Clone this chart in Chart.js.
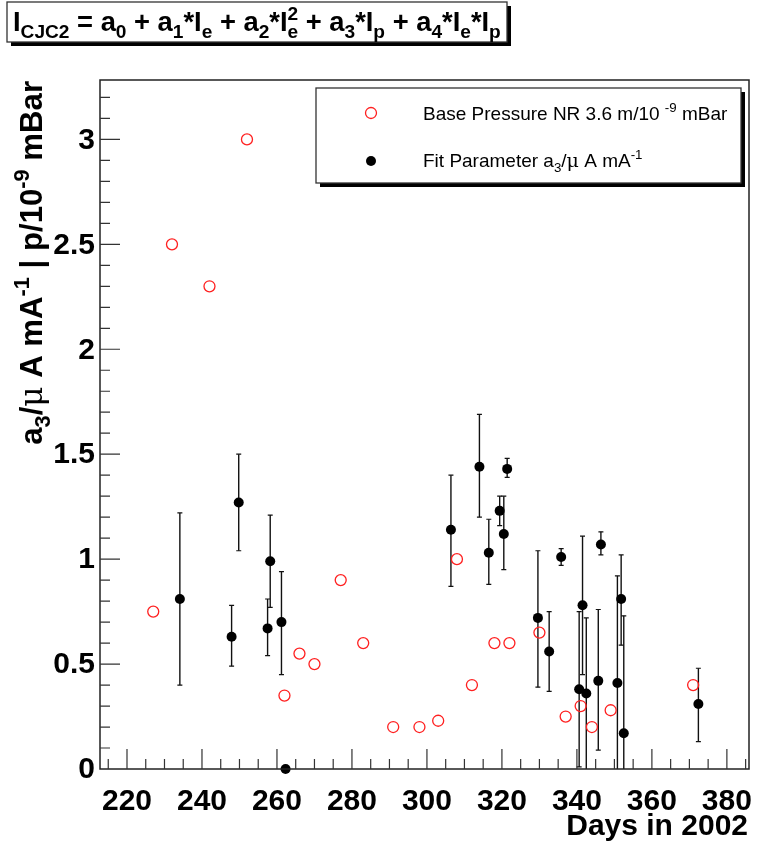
<!DOCTYPE html>
<html>
<head>
<meta charset="utf-8">
<script src="https://cdn.jsdelivr.net/npm/chart.js@4.4.0/dist/chart.umd.min.js"></script>
<style>
  html, body { margin: 0; padding: 0; background: #fff; }
</style>
</head>
<body>
<canvas id="cjcChart" width="758" height="843"></canvas>
<script>
// base pressure (red open circles)
const pressureDays = [227, 232, 242, 252, 262, 266, 270, 277, 283, 291, 298, 303, 308, 312, 318, 322, 330, 337, 341, 344, 349, 371];
const pressureVals = [0.75, 2.5, 2.3, 3.0, 0.35, 0.55, 0.5, 0.9, 0.6, 0.2, 0.2, 0.23, 1.0, 0.4, 0.6, 0.6, 0.65, 0.25, 0.3, 0.2, 0.28, 0.4];

// fit parameter a3 (black dots) with error bar ends
const fitDays = [234.1, 247.9, 249.8, 257.5, 258.2, 261.2, 262.3, 306.4, 314.0, 316.5, 319.4, 320.5, 321.4, 329.6, 332.6, 335.8, 340.6, 341.5, 342.5, 345.7, 346.4, 350.8, 351.8, 352.5, 372.4];
const fitVals = [0.81, 0.63, 1.27, 0.67, 0.99, 0.70, 0.0, 1.14, 1.44, 1.03, 1.23, 1.12, 1.43, 0.72, 0.56, 1.01, 0.38, 0.78, 0.36, 0.42, 1.07, 0.41, 0.81, 0.17, 0.31];
const fitHigh = [1.22, 0.78, 1.50, 0.81, 1.21, 0.94, 0.0, 1.40, 1.69, 1.19, 1.30, 1.30, 1.48, 1.04, 0.75, 1.05, 0.75, 1.11, 0.72, 0.76, 1.13, 0.92, 1.02, 0.73, 0.48];
const fitLow = [0.40, 0.49, 1.04, 0.54, 0.77, 0.45, 0.0, 0.87, 1.20, 0.88, 1.16, 0.95, 1.39, 0.39, 0.37, 0.97, 0.01, 0.45, -0.1, 0.09, 1.02, -0.1, 0.59, -0.1, 0.13];

const xTicks = [220, 240, 260, 280, 300, 320, 340, 360, 380];
const yTicks = [0, 0.5, 1, 1.5, 2, 2.5, 3];
const yTickLabels = ["0", "0.5", "1", "1.5", "2", "2.5", "3"];

const SANS = '"Liberation Sans", Arial, Helvetica, sans-serif';
const SERIF = '"DejaVu Serif", "Liberation Serif", serif';

// text with sub/superscripts, drawn piece by piece
function segFont(s, size, weight) {
  const sz = (s.sub || s.sup) ? size * 0.7 : size;
  return (s.serif ? 'normal' : weight) + ' ' + sz + 'px ' + (s.serif ? SERIF : SANS);
}
function layoutRich(ctx, segs, size, weight) {
  let x = 0;
  const items = [];
  segs.forEach(s => {
    const font = segFont(s, size, weight);
    ctx.font = font;
    const w = ctx.measureText(s.t).width;
    const dy = s.sub ? size * 0.27 : s.sup ? -size * 0.42 : 0;
    items.push({ t: s.t, x: x, dy: dy, font: font });
    if (!s.hold) x += w;
  });
  return { items: items, width: x };
}
function drawRich(ctx, x, y, segs, size, weight, align) {
  const lay = layoutRich(ctx, segs, size, weight);
  const x0 = align === 'right' ? x - lay.width : x;
  ctx.textAlign = 'left';
  ctx.textBaseline = 'alphabetic';
  lay.items.forEach(it => {
    ctx.font = it.font;
    ctx.fillText(it.t, x0 + it.x, y + it.dy);
  });
}
function fitSize(ctx, segs, size, weight, target) {
  return size * target / layoutRich(ctx, segs, size, weight).width;
}

const titleSegs = [
  { t: 'I' }, { t: 'CJC2', sub: true }, { t: ' = a' }, { t: '0', sub: true },
  { t: ' + a' }, { t: '1', sub: true }, { t: '*I' }, { t: 'e', sub: true },
  { t: ' + a' }, { t: '2', sub: true }, { t: '*I' }, { t: '2', sup: true, hold: true }, { t: 'e', sub: true },
  { t: ' + a' }, { t: '3', sub: true }, { t: '*I' }, { t: 'p', sub: true },
  { t: ' + a' }, { t: '4', sub: true }, { t: '*I' }, { t: 'e', sub: true }, { t: '*I' }, { t: 'p', sub: true }
];
const yTitleSegs = [
  { t: 'a' }, { t: '3', sub: true }, { t: '/' }, { t: 'μ', serif: true }, { t: ' A mA' }, { t: '-1', sup: true },
  { t: ' | p/10' }, { t: '-9', sup: true }, { t: ' mBar' }
];
const legend1Segs = [{ t: 'Base Pressure NR 3.6 m/10 ' }, { t: '-9', sup: true }, { t: ' mBar' }];
const legend2Segs = [{ t: 'Fit Parameter a' }, { t: '3', sub: true }, { t: '/' }, { t: 'μ', serif: true }, { t: ' A mA' }, { t: '-1', sup: true }];

function shadowBox(ctx, x1, y1, x2, y2, off) {
  ctx.fillStyle = '#000';
  ctx.fillRect(x1 + off, y1 + off, x2 - x1, y2 - y1);
  ctx.fillStyle = '#fff';
  ctx.fillRect(x1, y1, x2 - x1, y2 - y1);
  ctx.strokeStyle = '#333';
  ctx.lineWidth = 1.3;
  ctx.strokeRect(x1, y1, x2 - x1, y2 - y1);
}

const rootStyle = {
  id: 'rootStyle',
  beforeDraw(chart) {
    const ctx = chart.ctx;
    ctx.save();
    ctx.fillStyle = '#fff';
    ctx.fillRect(0, 0, chart.width, chart.height);
    ctx.restore();
  },
  beforeDatasetsDraw(chart) {
    const { ctx, chartArea: a, scales: { x, y } } = chart;
    ctx.save();
    ctx.beginPath();
    ctx.rect(a.left, a.top, a.right - a.left, a.bottom - a.top);
    ctx.clip();
    ctx.strokeStyle = '#111';
    fitDays.forEach((d, i) => {
      if (fitHigh[i] === fitLow[i]) return;
      const px = x.getPixelForValue(d);
      const hi = y.getPixelForValue(fitHigh[i]);
      const lo = y.getPixelForValue(fitLow[i]);
      ctx.lineWidth = 1.4;
      ctx.beginPath();
      ctx.moveTo(px, hi);
      ctx.lineTo(px, lo);
      ctx.stroke();
      ctx.lineWidth = 1.2;
      ctx.beginPath();
      ctx.moveTo(px - 2.5, hi); ctx.lineTo(px + 2.5, hi);
      ctx.moveTo(px - 2.5, lo); ctx.lineTo(px + 2.5, lo);
      ctx.stroke();
    });
    ctx.restore();
  },
  afterDraw(chart) {
    const { ctx, chartArea: a, scales: { x, y } } = chart;
    ctx.save();

    // frame
    ctx.strokeStyle = '#222';
    ctx.lineWidth = 1.5;
    ctx.strokeRect(a.left, a.top, a.right - a.left, a.bottom - a.top);

    // inward tick marks
    ctx.strokeStyle = '#333';
    ctx.lineWidth = 1.2;
    ctx.beginPath();
    for (let v = 215; v <= 385; v += 5) {
      const px = x.getPixelForValue(v);
      const len = xTicks.includes(v) ? 20 : 10;
      ctx.moveTo(px, a.bottom);
      ctx.lineTo(px, a.bottom - len);
    }
    for (let i = 1; i <= 32; i++) {
      const py = y.getPixelForValue(i / 10);
      const len = i % 5 === 0 ? 20 : 10;
      ctx.moveTo(a.left, py);
      ctx.lineTo(a.left + len, py);
    }
    ctx.stroke();

    // tick labels
    ctx.fillStyle = '#000';
    ctx.font = 'bold 30px ' + SANS;
    ctx.textAlign = 'right';
    ctx.textBaseline = 'middle';
    yTicks.forEach((v, i) => ctx.fillText(yTickLabels[i], a.left - 5, y.getPixelForValue(v) + 1));
    ctx.textAlign = 'center';
    ctx.textBaseline = 'alphabetic';
    xTicks.forEach(v => ctx.fillText(String(v), x.getPixelForValue(v), 810));

    // axis titles
    ctx.font = 'bold 30px ' + SANS;
    ctx.textAlign = 'right';
    ctx.fillText('Days in 2002', 748, 835);

    ctx.save();
    ctx.translate(42, a.top + 1);
    ctx.rotate(-Math.PI / 2);
    const ys = fitSize(ctx, yTitleSegs, 30, 'bold', 364);
    drawRich(ctx, 0, 0, yTitleSegs, ys, 'bold', 'right');
    ctx.restore();

    // legend
    shadowBox(ctx, 316, 88, 741, 183, 4);
    ctx.fillStyle = '#000';
    drawRich(ctx, 423, 120, legend1Segs, 19, 'normal', 'left');
    drawRich(ctx, 423, 167, legend2Segs, 19, 'normal', 'left');
    ctx.strokeStyle = '#ff2020';
    ctx.lineWidth = 1.3;
    ctx.beginPath();
    ctx.arc(371, 113, 5.5, 0, Math.PI * 2);
    ctx.stroke();
    ctx.fillStyle = '#000';
    ctx.beginPath();
    ctx.arc(371, 161, 5, 0, Math.PI * 2);
    ctx.fill();

    // title box
    shadowBox(ctx, 7, 2, 507, 42, 4);
    ctx.fillStyle = '#000';
    const ts = fitSize(ctx, titleSegs, 28, 'bold', 488);
    drawRich(ctx, 13, 31, titleSegs, ts, 'bold', 'left');

    ctx.restore();
  }
};

new Chart(document.getElementById('cjcChart').getContext('2d'), {
  type: 'scatter',
  data: {
    datasets: [
      {
        label: 'Base Pressure NR 3.6 m/10-9 mBar',
        data: pressureDays.map((d, i) => ({ x: d, y: pressureVals[i] })),
        pointStyle: 'circle',
        pointRadius: 5.5,
        pointBackgroundColor: 'rgba(0,0,0,0)',
        pointBorderColor: '#ff2020',
        pointBorderWidth: 1.3
      },
      {
        label: 'Fit Parameter a3',
        data: fitDays.map((d, i) => ({ x: d, y: fitVals[i] })),
        pointStyle: 'circle',
        pointRadius: 5,
        pointBackgroundColor: '#000',
        pointBorderColor: '#000',
        pointBorderWidth: 0,
        clip: false
      }
    ]
  },
  options: {
    responsive: false,
    animation: false,
    layout: { padding: { left: 100, right: 9, top: 80, bottom: 74 } },
    plugins: { legend: { display: false }, tooltip: { enabled: false } },
    scales: {
      x: { type: 'linear', min: 212.8, max: 385.9, display: false },
      y: { type: 'linear', min: 0, max: 3.283, display: false }
    }
  },
  plugins: [rootStyle]
});
</script>
</body>
</html>
